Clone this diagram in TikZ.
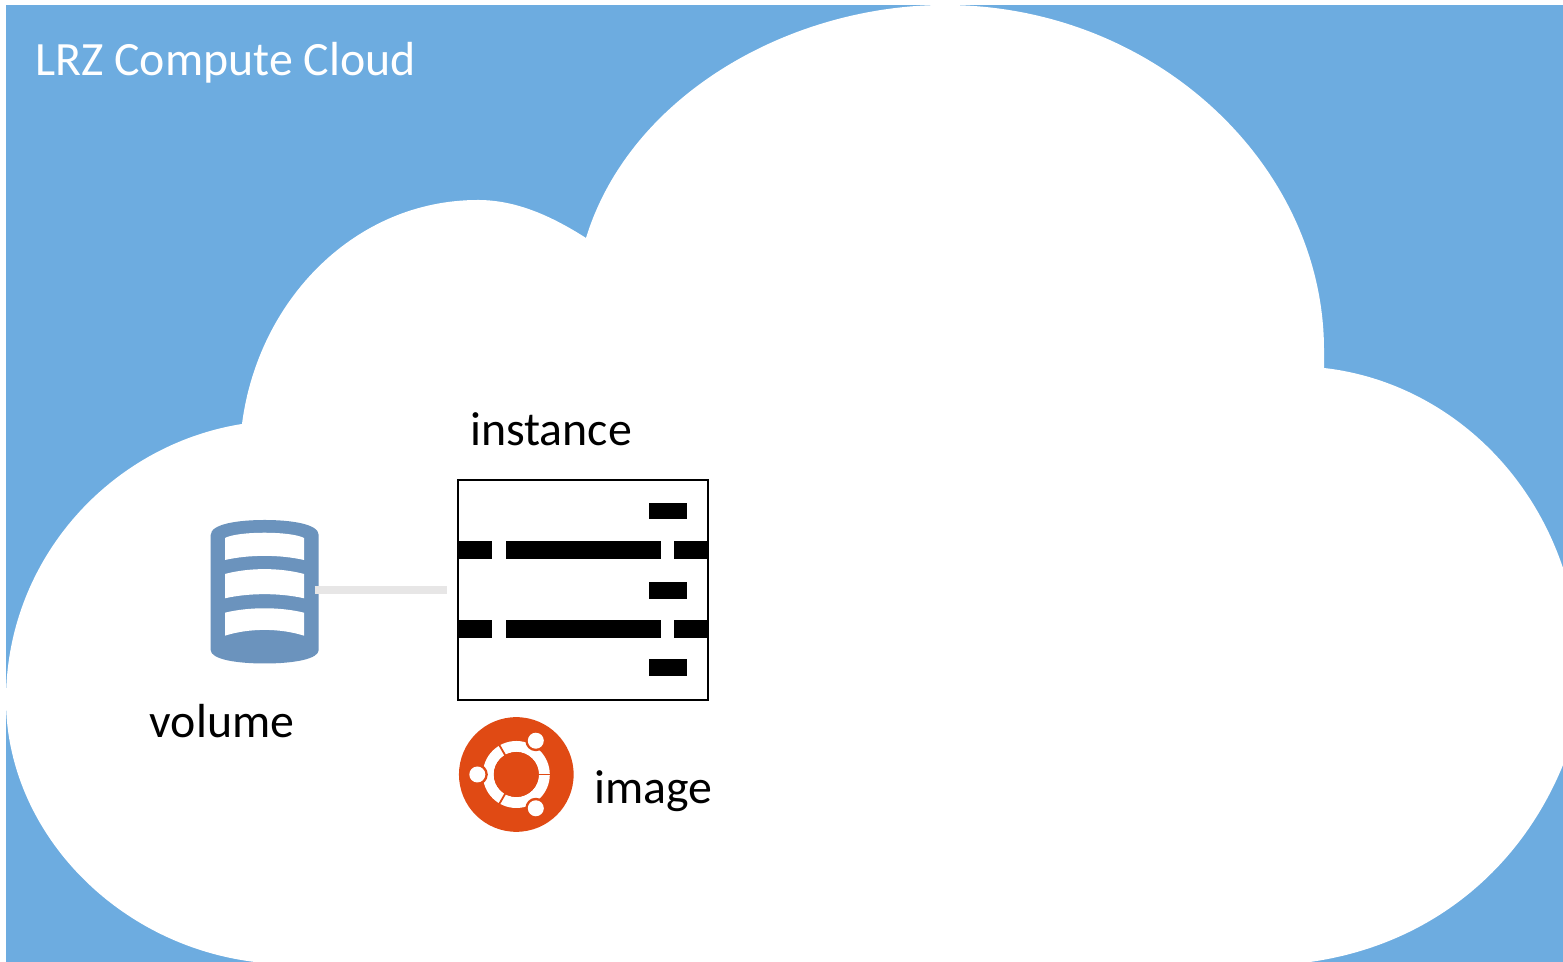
\documentclass[tikz,border=0pt]{standalone}
\usepackage{fontspec}
\setmainfont{Carlito}
\definecolor{cloudblue}{HTML}{6DACE0}
\definecolor{volumeblue}{HTML}{6B93BD}
\definecolor{linkgrey}{HTML}{E7E6E6}
\definecolor{ubuntuorange}{HTML}{E04A14}
\tikzset{
	label text/.style={anchor=base west,inner sep=0pt,font=\fontsize{13.6}{16}\selectfont},
	bar/.style={fill=black},
	band/.style={fill=white},
	volumelink/.style={draw=linkgrey,line width=0.08cm,shorten <=-0.04cm,shorten >=0.11cm}
}

\begin{document}
\begin{tikzpicture}[x=0.01cm,y=-0.01cm]
				\useasboundingbox (0,0) rectangle (1563,962);
				\fill[white] (0,0) rectangle (1563,962);
				\fill[cloudblue] (6,5) rectangle (1563,962);
				% cloud
				\fill[white] (945,5) .. controls (1155,5) and (1324,165) .. (1324,350) -- (1324,368)
					.. controls (1430,380) and (1525,455) .. (1563,568) -- (1563,765)
					.. controls (1520,870) and (1430,945) .. (1310,962) -- (255,962)
					.. controls (115,945) and (6,830) .. (6,700)
					.. controls (6,560) and (110,445) .. (242,424)
					.. controls (258,300) and (355,200) .. (478,200)
					.. controls (515,200) and (550,215) .. (586,238)
					.. controls (630,95) and (790,5) .. (945,5) -- cycle;
				\node[label text,text=white] (cloudname) at (34.5,75.5) {LRZ Compute Cloud};
				% volume
				\node[minimum width=1.08cm,minimum height=1.44cm,inner sep=0pt,outer sep=0pt] (volume) at (264.7,591.8) {};
				\fill[volumeblue] (210.7,535) .. controls (210.7,524) and (238,520) .. (264.7,520)
					.. controls (291,520) and (318.7,524) .. (318.7,535) -- (318.7,650)
					.. controls (318.7,659) and (294,663.5) .. (264.7,663.5)
					.. controls (235,663.5) and (210.7,659) .. (210.7,650) -- cycle;
				\fill[band] (225,538) .. controls (238,531) and (291,531) .. (304,538) -- (304,560)
					.. controls (280,554.5) and (249,554.5) .. (225,560) -- cycle;
				\fill[band] (225,574) .. controls (249,567.5) and (280,567.5) .. (304,574) -- (304,598.3)
					.. controls (280,592.8) and (249,592.8) .. (225,598.3) -- cycle;
				\fill[band] (225,612.7) .. controls (249,606.8) and (280,606.8) .. (304,612.7) -- (304,635.7)
					.. controls (280,628) and (249,628) .. (225,635.7) -- cycle;
				\node[label text] (volumename) at (149,738) {volume};
				% instance
				\node[draw,line width=0.6pt,fill=white,minimum width=2.5cm,minimum height=2.2cm,inner sep=0pt,outer sep=0pt] (instance) at (583,590) {};
				\foreach \y in {502.7,582,659.5}
					\fill[bar] (649,\y) rectangle (686.7,\y+16.6);
				\foreach \y in {540.7,620}
				{
					\fill[bar] (458,\y) rectangle (492.3,\y+18);
					\fill[bar] (505.5,\y) rectangle (660.5,\y+18);
					\fill[bar] (673.7,\y) rectangle (708,\y+18);
				}
				\node[label text] (instancename) at (469.5,446) {instance};
				\draw[volumelink] (volume.east |- instance.west) -- (instance.west);
				% image
				\node[circle,fill=ubuntuorange,minimum size=1.146cm,inner sep=0pt,outer sep=0pt] (image) at (516.3,774.5) {};
				\fill[white,even odd rule] (image.center) circle (33.5) (image.center) circle (22.5);
				\foreach \a in {0,120,240}
					\draw[ubuntuorange,line width=0.018cm] (image.center) -- +(-\a:35);
				\foreach \a in {60,180,300}
				{
					\fill[ubuntuorange] (image.center) ++(-\a:39) circle (10.5);
					\fill[white] (image.center) ++(-\a:39) circle (8);
				}
				\fill[ubuntuorange] (image.center) circle (22.5);
				\node[label text] (imagename) at (593.5,804) {image};
\end{tikzpicture}
\end{document}
